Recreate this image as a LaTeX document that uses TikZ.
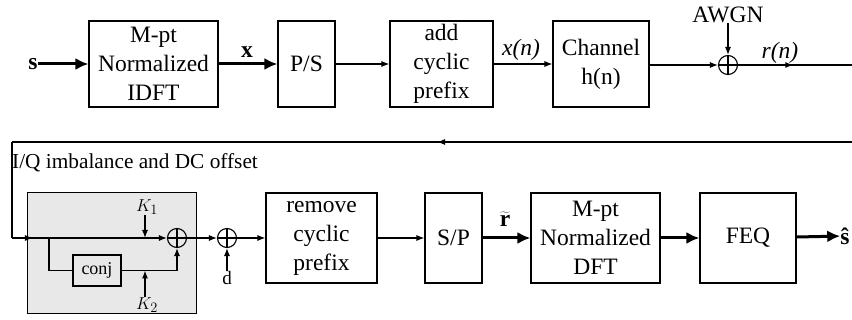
\documentclass[tikz,border=0pt]{standalone}
\usepackage{fontspec}
\setmainfont{Liberation Serif}
\usetikzlibrary{arrows.meta,decorations.markings}
\tikzset{
  blk/.style={draw,line width=1.1pt,inner sep=0pt,align=center,font=\fontsize{23.5}{29}\selectfont},
  sumc/.style={draw,circle,line width=1.1pt,minimum size=19pt,inner sep=0pt,
    path picture={\draw[line width=1.1pt] (path picture bounding box.north)--(path picture bounding box.south)
      (path picture bounding box.west)--(path picture bounding box.east);}},
  thin/.style={line width=1.1pt},
  tarr/.style={thin,-{Latex[length=8pt,width=6pt]}},
  barr/.style={line width=3pt,-{Latex[length=13pt,width=12pt]}},
  midarr/.style={thin,postaction={decorate},decoration={markings,
    mark=at position #1 with {\arrow{Latex[length=8pt,width=6pt]}}}},
  lbl/.style={inner sep=0pt,font=\fontsize{23.5}{29}\selectfont},
  slbl/.style={inner sep=0pt,font=\fontsize{19}{22}\selectfont},
}
\begin{document}
\begin{tikzpicture}[x=1pt,y=-1pt]
\useasboundingbox (0,0) rectangle (852,320);
% shaded box
\node[draw,line width=1pt,fill=gray!18,minimum width=169pt,minimum height=121pt,inner sep=0pt] (iq) at (111.5,253.5) {};
\node[inner sep=0pt,anchor=west,font=\fontsize{21.3}{24}\selectfont] (iqlbl) at (12,163) {I/Q imbalance and DC offset};
% top row
\node[lbl] (s) at (33,64) {\textbf{s}};
\node[blk,minimum width=129pt,minimum height=86pt] (idft) at (153.5,64) {M-pt\\Normalized\\IDFT};
\node[blk,minimum width=57pt,minimum height=86pt] (ps) at (306.5,64) {P/S};
\node[blk,minimum width=103pt,minimum height=86pt] (acp) at (441.5,64) {add\\cyclic\\prefix};
\node[blk,minimum width=96pt,minimum height=86pt] (chan) at (601,64) {Channel\\h(n)};
\node[sumc] (sum0) at (728,65) {};
\node[lbl] (awgn) at (728,15) {AWGN};
\node[lbl] (xl) at (247,52) {\textbf{x}};
\node[lbl] (xnl) at (521,50) {\textit{x(n)}};
\node[lbl] (rnl) at (780,53) {\textit{r(n)}};
\coordinate (rOut) at (852,65);
\coordinate (rIn) at (852,142);
\coordinate (rTL) at (12,142);
\coordinate (rBL) at (12,238);
\draw[barr] (s) -- (idft);
\draw[barr] (idft) -- (ps);
\draw[tarr] (ps) -- (acp);
\draw[tarr] (acp) -- (chan);
\draw[tarr] (chan.east |- sum0) -- (sum0);
\draw[tarr] (awgn) -- (sum0);
\draw[midarr=0.485] (sum0) -- (rOut);
% return line
\draw[midarr=0.494] (rIn) -- (rTL);
\draw[thin] (rTL) -- (rBL);
% IQ internals
\node[sumc] (c1) at (177,238) {};
\node[sumc] (c2) at (227,238) {};
\node[draw,thin,minimum width=48pt,minimum height=31pt,inner sep=0pt,font=\fontsize{18}{20}\selectfont] (conj) at (97,270.5) {conj};
\node[slbl] (k1) at (147,207) {$K_1$};
\node[slbl] (k2) at (147,305) {$K_2$};
\node[slbl] (d) at (227,278) {d};
\coordinate (br) at (49,238);
\coordinate (cl) at (49,270.5);
\coordinate (cr) at (177,270.5);
\coordinate (k1p) at (145,238);
\coordinate (k2p) at (145,270.5);
\draw[midarr=0.135,-{Latex[length=8pt,width=6pt]}] (rBL) -- (c1);
\draw[thin] (br) -- (cl) -- (conj);
\draw[tarr] (conj) -- (cr) -- (c1);
\draw[tarr] (k1.south -| k1p) -- (k1p);
\draw[tarr] (k2.north -| k2p) -- (k2p);
\draw[tarr] (c1) -- (c2);
\draw[tarr] (d) -- (c2);
% bottom row
\node[blk,minimum width=111pt,minimum height=90pt] (rcp) at (321.5,238) {remove\\cyclic\\prefix};
\node[blk,minimum width=57pt,minimum height=90pt] (sp) at (453.5,238) {S/P};
\node[blk,minimum width=129pt,minimum height=90pt] (dft) at (595.5,238) {M-pt\\Normalized\\DFT};
\node[blk,minimum width=96pt,minimum height=90pt] (feq) at (748,238) {FEQ};
\node[lbl] (rt) at (505,219) {$\widetilde{\textbf{r}}$};
\node[lbl] (sh) at (845,236) {\textbf{\^{s}}};
\draw[tarr] (c2) -- (rcp);
\draw[tarr] (rcp) -- (sp);
\draw[barr] (sp) -- (dft);
\draw[barr] (dft) -- (feq);
\draw[barr] (feq) -- (sh);
\end{tikzpicture}
\end{document}
